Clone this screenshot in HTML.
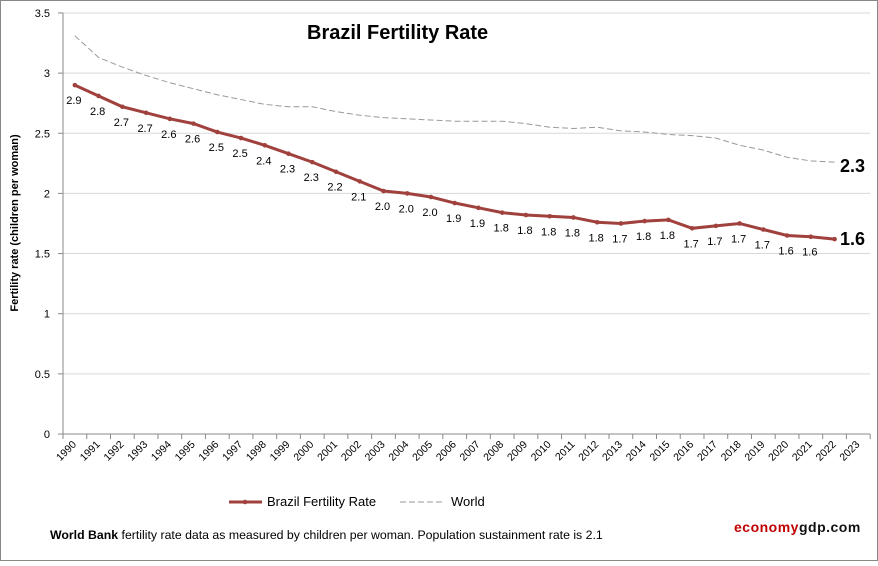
<!DOCTYPE html><html><head><style>body{margin:0;background:#fff}svg{font-family:"Liberation Sans",sans-serif}</style></head><body>
<svg id="s" width="878" height="561" xmlns="http://www.w3.org/2000/svg">
<rect x="0.5" y="0.5" width="877" height="560" fill="#fff" stroke="#888"/>
</svg>
<script>
const s=document.getElementById('s');let h='';
const X0=63,W=23.74,Y0=434,K=120.3;
const y=v=>Y0-v*K, x=i=>X0+W*(i+0.5);
for(let g=0.5;g<=3.5;g+=0.5){h+=`<line x1="63" x2="870" y1="${y(g)}" y2="${y(g)}" stroke="#d9d9d9"/>`;}
for(let g=0;g<=3.5;g+=0.5){h+=`<line x1="58" x2="63" y1="${y(g)}" y2="${y(g)}" stroke="#888"/><text x="50" y="${y(g)+4}" font-size="11" text-anchor="end">${g}</text>`;}
h+=`<line x1="63" x2="63" y1="13" y2="434" stroke="#888"/><line x1="63" x2="870" y1="434" y2="434" stroke="#888"/>`;
for(let i=0;i<=34;i++){h+=`<line x1="${X0+W*i}" x2="${X0+W*i}" y1="434" y2="439" stroke="#888"/>`;}
for(let i=0;i<34;i++){const cx=x(i)+2,cy=445;h+=`<text transform="translate(${cx},${cy}) rotate(-45)" font-size="10.5" text-anchor="end">${1990+i}</text>`;}
const B=[2.9,2.81,2.72,2.67,2.62,2.58,2.51,2.46,2.40,2.33,2.26,2.18,2.10,2.02,2.0,1.97,1.92,1.88,1.84,1.82,1.81,1.80,1.76,1.75,1.77,1.78,1.71,1.73,1.75,1.70,1.65,1.64,1.62];
const Wd=[3.31,3.13,3.05,2.98,2.92,2.87,2.82,2.78,2.74,2.72,2.72,2.68,2.65,2.63,2.62,2.61,2.60,2.60,2.60,2.58,2.55,2.54,2.55,2.52,2.51,2.49,2.48,2.46,2.40,2.36,2.30,2.27,2.26];
const lb=["2.9","2.8","2.7","2.7","2.6","2.6","2.5","2.5","2.4","2.3","2.3","2.2","2.1","2.0","2.0","2.0","1.9","1.9","1.8","1.8","1.8","1.8","1.8","1.7","1.8","1.8","1.7","1.7","1.7","1.7","1.6","1.6"];
h+=`<polyline fill="none" stroke="#999" stroke-dasharray="6,3" stroke-width="1" points="${Wd.map((v,i)=>x(i)+','+y(v)).join(' ')}"/>`;
h+=`<polyline fill="none" stroke="#a0413d" stroke-width="3" points="${B.map((v,i)=>x(i)+','+y(v)).join(' ')}"/>`;
B.forEach((v,i)=>{h+=`<circle cx="${x(i)}" cy="${y(v)}" r="2.3" fill="#a0413d"/>`;if(i<32)h+=`<text x="${x(i)-1}" y="${y(v)+19}" font-size="11" text-anchor="middle">${lb[i]}</text>`;});
h+=`<text x="840" y="172" font-size="18" font-weight="bold">2.3</text><text x="840" y="245" font-size="18" font-weight="bold">1.6</text>`;
h+=`<text x="307" y="39" font-size="20" font-weight="bold">Brazil Fertility Rate</text>`;
h+=`<text transform="translate(18,223) rotate(-90)" font-size="11" font-weight="bold" text-anchor="middle">Fertility rate (children per woman)</text>`;
h+=`<line x1="229" x2="262" y1="502" y2="502" stroke="#a0413d" stroke-width="3"/><circle cx="245" cy="502" r="2.3" fill="#a0413d"/><text x="267" y="506" font-size="13">Brazil Fertility Rate</text>`;
h+=`<line x1="400" x2="445" y1="502" y2="502" stroke="#999" stroke-dasharray="6,3"/><text x="451" y="506" font-size="13">World</text>`;
h+=`<text x="50" y="539" font-size="12.3"><tspan font-weight="bold">World Bank</tspan>  fertility rate data as measured by children per woman.  Population sustainment rate is 2.1</text>`;
h+=`<text x="734" y="532" font-size="14" font-weight="bold" fill="#c00000" letter-spacing="0.5">economy<tspan fill="#111">gdp.com</tspan></text>`;
s.innerHTML+=h;
</script></body></html>
